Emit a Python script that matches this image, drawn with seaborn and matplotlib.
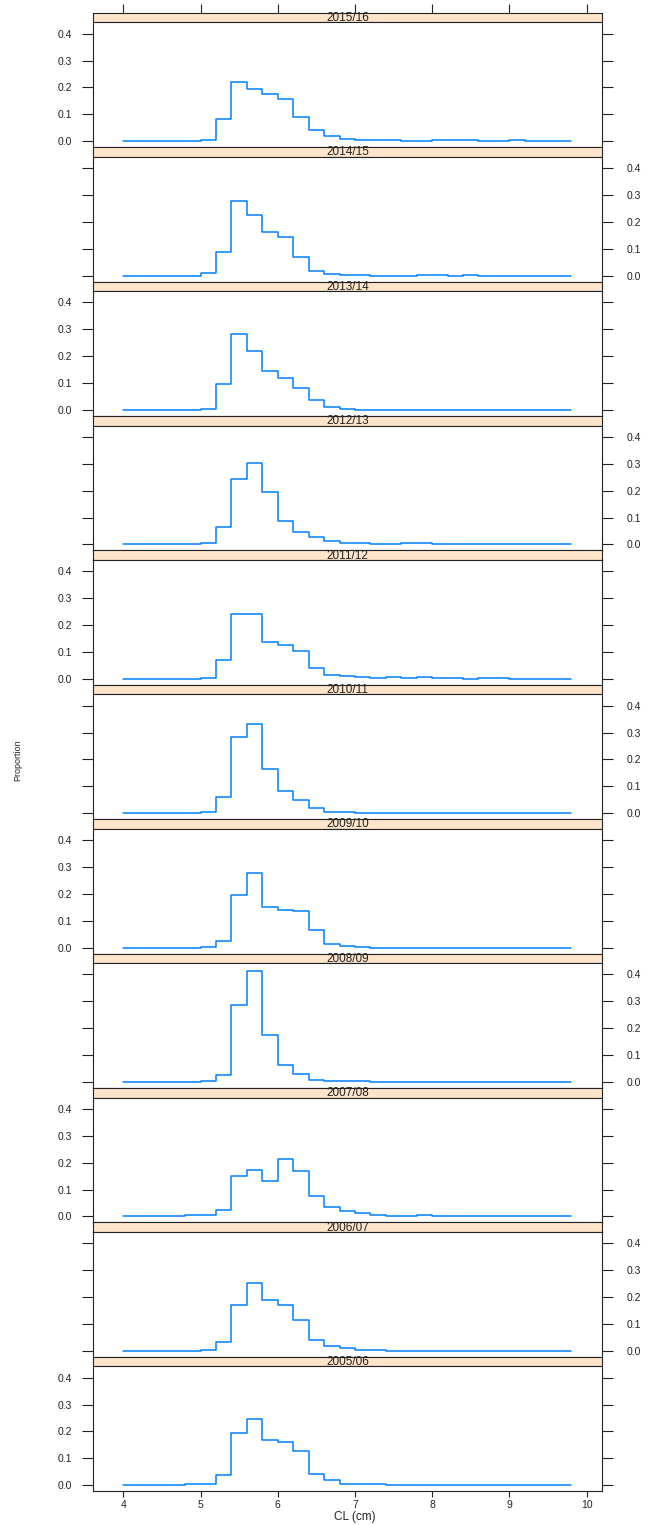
import numpy as np
import pandas as pd
import matplotlib.pyplot as plt
import seaborn as sns

# ------------------------------------------------------------
# DATA — length-frequency proportions per season (0.2 cm CL bins)
# ------------------------------------------------------------
seasons = ["2015/16", "2014/15", "2013/14", "2012/13", "2011/12", "2010/11",
           "2009/10", "2008/09", "2007/08", "2006/07", "2005/06"]

cl_bins = [4.0, 4.2, 4.4, 4.6, 4.8, 5.0, 5.2, 5.4, 5.6, 5.8,
           6.0, 6.2, 6.4, 6.6, 6.8, 7.0, 7.2, 7.4, 7.6, 7.8,
           8.0, 8.2, 8.4, 8.6, 8.8, 9.0, 9.2, 9.4, 9.6, 9.8]

p_2015_16 = [0, 0, 0, 0, 0, 0.005, 0.081, 0.222, 0.196, 0.175,
             0.158, 0.091, 0.042, 0.018, 0.009, 0.005, 0.003, 0.003, 0, 0,
             0.004, 0.004, 0.004, 0, 0, 0.004, 0, 0, 0, 0]
p_2014_15 = [0, 0, 0, 0, 0, 0.008, 0.086, 0.277, 0.226, 0.162,
             0.142, 0.070, 0.018, 0.006, 0.003, 0.003, 0, 0, 0, 0.003,
             0.003, 0, 0.003, 0, 0, 0, 0, 0, 0, 0]
p_2013_14 = [0, 0, 0, 0, 0, 0.004, 0.098, 0.282, 0.218, 0.145,
             0.119, 0.082, 0.036, 0.010, 0.004, 0, 0, 0, 0, 0,
             0, 0, 0, 0, 0, 0, 0, 0, 0, 0]
p_2012_13 = [0, 0, 0, 0, 0, 0.005, 0.063, 0.244, 0.302, 0.194,
             0.086, 0.047, 0.028, 0.013, 0.005, 0.005, 0.001, 0.001, 0.005, 0.005,
             0, 0.003, 0.003, 0.003, 0.003, 0, 0, 0, 0, 0]
p_2011_12 = [0, 0, 0, 0, 0, 0.004, 0.070, 0.240, 0.240, 0.137,
             0.127, 0.103, 0.039, 0.015, 0.010, 0.005, 0.003, 0.005, 0.003, 0.005,
             0.003, 0.003, 0, 0.003, 0.003, 0, 0, 0, 0, 0]
p_2010_11 = [0, 0, 0, 0, 0, 0.003, 0.062, 0.284, 0.332, 0.166,
             0.084, 0.048, 0.021, 0.006, 0.003, 0, 0, 0, 0, 0,
             0, 0, 0, 0, 0, 0, 0, 0, 0, 0]
p_2009_10 = [0, 0, 0, 0, 0, 0.004, 0.024, 0.197, 0.278, 0.151,
             0.140, 0.135, 0.067, 0.015, 0.005, 0.003, 0, 0, 0, 0,
             0, 0, 0, 0, 0, 0, 0, 0, 0, 0]
p_2008_09 = [0, 0, 0, 0, 0, 0.003, 0.025, 0.288, 0.414, 0.176,
             0.062, 0.029, 0.009, 0.003, 0.003, 0.003, 0, 0, 0, 0,
             0, 0, 0, 0, 0, 0, 0, 0, 0, 0]
p_2007_08 = [0, 0, 0, 0, 0.004, 0.004, 0.023, 0.151, 0.171, 0.133,
             0.215, 0.170, 0.077, 0.034, 0.019, 0.011, 0.005, 0.003, 0, 0.004,
             0, 0, 0, 0, 0, 0, 0, 0, 0, 0]
p_2006_07 = [0, 0, 0, 0, 0, 0.003, 0.034, 0.171, 0.254, 0.190,
             0.171, 0.114, 0.039, 0.019, 0.009, 0.003, 0.003, 0, 0, 0,
             0, 0, 0, 0, 0, 0, 0, 0, 0, 0]
p_2005_06 = [0, 0, 0, 0, 0.004, 0.004, 0.039, 0.195, 0.245, 0.169,
             0.161, 0.127, 0.040, 0.018, 0.006, 0.004, 0.004, 0, 0, 0,
             0, 0, 0, 0, 0, 0, 0, 0, 0, 0]

proportions = [p_2015_16, p_2014_15, p_2013_14, p_2012_13, p_2011_12, p_2010_11,
               p_2009_10, p_2008_09, p_2007_08, p_2006_07, p_2005_06]

x_ticks = [4, 5, 6, 7, 8, 9, 10]
y_ticks = [0.0, 0.1, 0.2, 0.3, 0.4]

df = pd.concat(
    [pd.DataFrame({"season": s, "CL": cl_bins, "Proportion": p})
     for s, p in zip(seasons, proportions)],
    ignore_index=True,
)

# ------------------------------------------------------------
# STYLE
# ------------------------------------------------------------
sns.set_style("white")
plt.rcParams["font.family"] = ["Liberation Sans", "DejaVu Sans"]

W, H = 653, 1525
LEFT, RIGHT = 93.3, 602.0      # panel edges in px
TOP0 = 12.7                    # top of first strip
PITCH = 134.4                  # strip + panel height
STRIP = 9.7
XLIM = (3.61, 10.2)
YLIM = (-0.022, 0.442)
LINE = "#0080ff"
STRIP_BG = "#ffe5cc"
EDGE = "#222222"

fig = plt.figure(figsize=(W / 100, H / 100), dpi=100)


def frame(ax):
    for sp in ax.spines.values():
        sp.set_color(EDGE)
        sp.set_linewidth(0.8)


# ------------------------------------------------------------
# PANELS (lattice-style stacked step plots)
# ------------------------------------------------------------
n = len(seasons)
for i, season in enumerate(seasons):
    y0 = TOP0 + i * PITCH

    # strip
    sax = fig.add_axes([LEFT / W, 1 - (y0 + STRIP) / H, (RIGHT - LEFT) / W, STRIP / H])
    sax.set_facecolor(STRIP_BG)
    sax.set_xlim(XLIM)
    sax.set_yticks([])
    sax.text(0.5, 0.45, season, ha="center", va="center", transform=sax.transAxes,
             fontsize=8.5, color="#222222")
    if i == 0:
        sax.set_xticks(x_ticks)
        sax.tick_params(axis="x", top=True, bottom=False, labeltop=False,
                        labelbottom=False, direction="out", length=6.5,
                        width=0.8, color=EDGE)
    else:
        sax.set_xticks([])
    frame(sax)

    # panel
    ax = fig.add_axes([LEFT / W, 1 - (y0 + PITCH) / H, (RIGHT - LEFT) / W, (PITCH - STRIP) / H])
    sub = df[df["season"] == season]
    sns.lineplot(data=sub, x="CL", y="Proportion", estimator=None,
                 drawstyle="steps-post", color=LINE, linewidth=1.1, ax=ax)
    ax.set_xlim(XLIM)
    ax.set_ylim(YLIM)
    ax.set_xlabel("")
    ax.set_ylabel("")
    ax.set_yticks(y_ticks)
    ax.set_yticklabels([f"{v:.1f}" for v in y_ticks])
    left_labels = (i % 2 == 0)
    ax.tick_params(axis="y", left=True, right=True, labelleft=left_labels,
                   labelright=not left_labels, direction="out", length=8,
                   width=0.8, color=EDGE, pad=7 if left_labels else 10,
                   labelsize=7.5, labelcolor="#222222")
    ax.set_xticks(x_ticks)
    if i == n - 1:
        ax.tick_params(axis="x", bottom=True, top=False, labelbottom=True,
                       direction="out", length=4.5, width=0.8, color=EDGE,
                       pad=2, labelsize=7.5, labelcolor="#222222")
    else:
        ax.tick_params(axis="x", bottom=False, top=False, labelbottom=False)
    frame(ax)

fig.text(355 / W, 1 - 1517 / H, "CL (cm)", ha="center", va="center",
         fontsize=8.5, color="#222222")
fig.text(18 / W, 1 - 760 / H, "Proportion", ha="center", va="center",
         rotation=90, fontsize=6.5, color="#222222")

fig.savefig("out.png", dpi=100)
